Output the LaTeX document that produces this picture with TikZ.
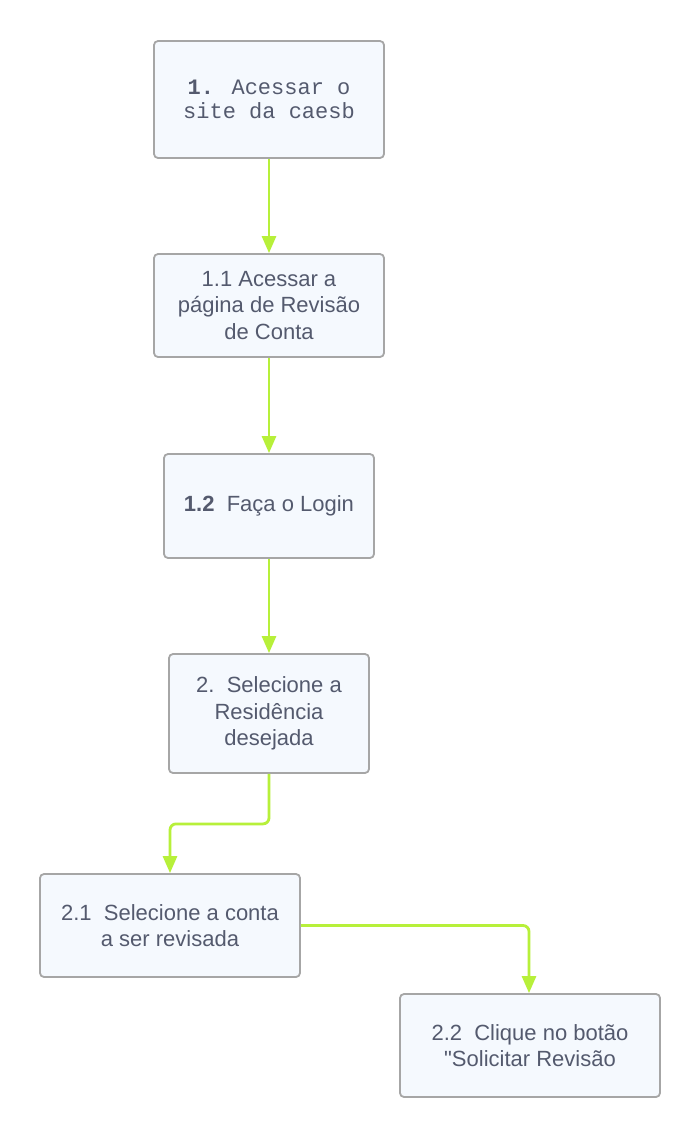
\documentclass[tikz,border=0pt]{standalone}
\usepackage{fontspec}
\setmainfont{Liberation Sans}
\newfontfamily\monof{Liberation Mono}
\usetikzlibrary{arrows.meta}
\definecolor{boxfill}{HTML}{F5F9FE}
\definecolor{boxline}{HTML}{A6A6A6}
\definecolor{txt}{HTML}{545A6E}
\definecolor{lime}{HTML}{B7F03A}
\tikzset{
  stepbox/.style={draw=boxline, line width=1.8pt, fill=boxfill, rounded corners=4pt,
    align=center, text=txt, font=\fontsize{22pt}{26.5pt}\selectfont, inner sep=0pt},
  arr/.style={draw=lime, line width=2.8pt, rounded corners=6pt,
    -{Triangle[width=14pt,length=17pt]}}
}
\begin{document}
\begin{tikzpicture}[x=1pt,y=-1pt]
\fill[white] (0,0) rectangle (700,1138);
\useasboundingbox (0,0) rectangle (700,1138);
\node[stepbox, minimum width=230pt, minimum height=117pt, font=\monof\fontsize{22pt}{24pt}\selectfont] (b1) at (269,99.5) {\textbf{1.} Acessar o\\site da caesb};
\node[stepbox, minimum width=230pt, minimum height=103pt] (b2) at (269,305.5) {1.1 Acessar a\\página de Revisão\\de Conta};
\node[stepbox, minimum width=210pt, minimum height=104pt] (b3) at (269,506) {\textbf{1.2}\ \ Faça o Login};
\node[stepbox, minimum width=200pt, minimum height=119pt] (b4) at (269,713.5) {2.\ \ Selecione a\\Residência\\desejada};
\node[stepbox, minimum width=260pt, minimum height=103pt] (b5) at (170,925.5) {2.1\ \ Selecione a conta\\a ser revisada};
\node[stepbox, minimum width=260pt, minimum height=103pt] (b6) at (530,1045.5) {2.2\ \ Clique no botão\\\textquotedbl Solicitar Revisão};
\draw[arr] (b1.south) -- (b2.north);
\draw[arr] (b2.south) -- (b3.north);
\draw[arr] (b3.south) -- (b4.north);
\draw[arr] (b4.south) -- ++(0,50) -| (b5.north);
\draw[arr] (b5.east) -| ([xshift=-1pt]b6.north);
\end{tikzpicture}
\end{document}
